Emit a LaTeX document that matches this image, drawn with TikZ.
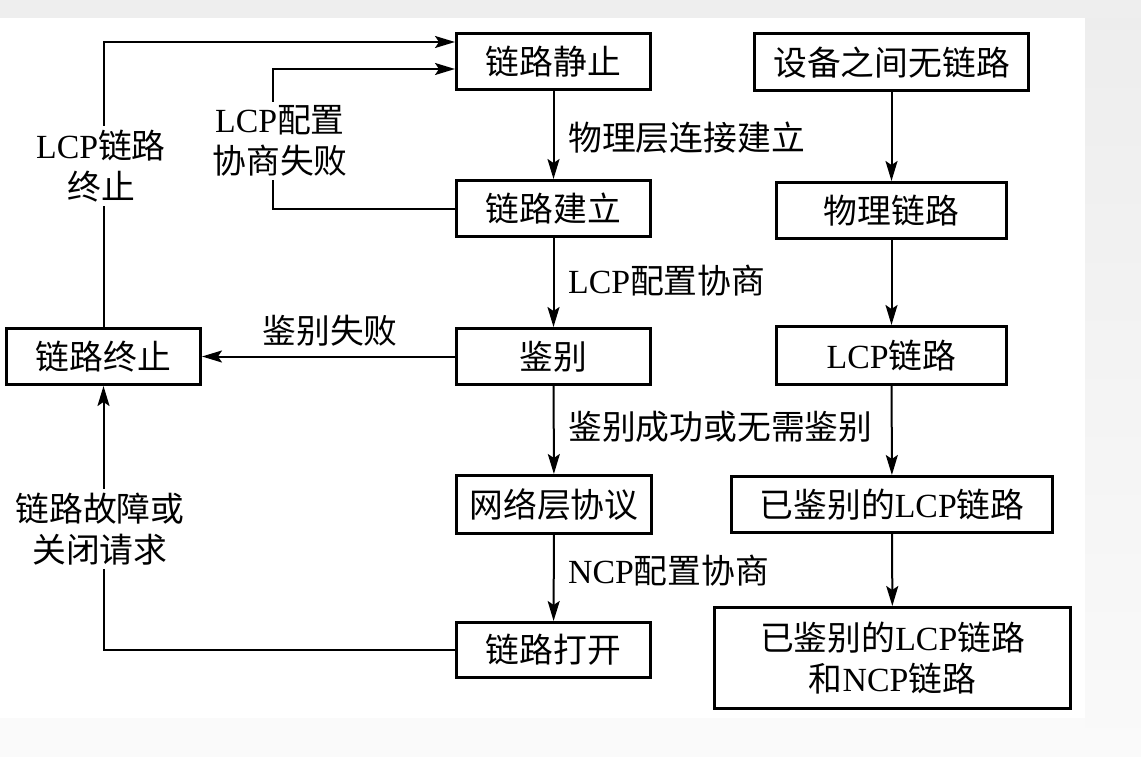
\documentclass[tikz,border=0pt]{standalone}
\usepackage{fontspec}
\setmainfont{Liberation Serif}
\newfontfamily\cjkfont{Noto Sans CJK SC}
\newcommand\zh[1]{{\cjkfont #1}}
\usetikzlibrary{arrows.meta}
\definecolor{bgtop}{HTML}{EEEEEE}
\definecolor{bgright}{HTML}{EDEDED}
\definecolor{bgbot}{HTML}{FAFAFA}
\begin{document}
\begin{tikzpicture}[x=1pt,y=-1pt,
  txt/.style={font=\fontsize{33.8}{41}\selectfont},
  box/.style={txt,draw=black,line width=3pt,minimum height=56pt,inner sep=0pt,align=center},
  conn/.style={line width=2pt},
  arr/.style={conn,-{Stealth[length=20pt,width=12pt,inset=4pt]}},
  lbl/.style={txt,inner sep=0pt,align=center},
  cut/.style={lbl,fill=white,inner ysep=4pt,inner xsep=2pt},
]
\useasboundingbox (0,0) rectangle (1141,757);
\fill[bgbot] (0,0) rectangle (1141,757);
\shade[top color=bgright,bottom color=bgbot] (1085,0) rectangle (1141,757);
\fill[bgtop] (0,0) rectangle (1141,18);
\fill[white] (0,18) rectangle (1085,718);

% middle column
\node[box,minimum width=194pt] (q) at (553.5,61.5) {\zh{链路静止}};
\node[box,minimum width=194pt] (e) at (553.5,208.5) {\zh{链路建立}};
\node[box,minimum width=194pt] (a) at (553.5,356.5) {\zh{鉴别}};
\node[box,minimum width=195pt,minimum height=58pt] (n) at (554,504.5) {\zh{网络层协议}};
\node[box,minimum width=194pt,minimum height=55pt] (o) at (553.5,650) {\zh{链路打开}};
% left
\node[box,minimum width=194pt] (t) at (103.5,356.5) {\zh{链路终止}};
% right column
\node[box,minimum width=274pt,minimum height=57pt] (r1) at (891.5,62.5) {\zh{设备之间无链路}};
\node[box,minimum width=230pt] (r2) at (891.5,210.5) {\zh{物理链路}};
\node[box,minimum width=230pt,minimum height=58pt] (r3) at (891.5,355.5) {LCP\zh{链路}};
\node[box,minimum width=321pt] (r4) at (892,504.5) {\zh{已鉴别的}LCP\zh{链路}};
\node[box,minimum width=356pt,minimum height=101pt] (r5) at (892.5,658) {\zh{已鉴别的}LCP\zh{链路}\\\zh{和}NCP\zh{链路}};

% middle connectors
\draw[arr] (q) -- (e);
\draw[arr] (e) -- (a);
\draw[arr] (a) -- (n);
\draw[arr] (n) -- (o);
% right connectors
\draw[arr] (r1) -- (r2);
\draw[arr] (r2) -- (r3);
\draw[arr] (r3) -- (r4);
\draw[arr] (r4) -- (r5);
% feedback connectors
\draw[arr] (a.west) -- (t.east);
\draw[arr] (o.west) -| (t.south);
\draw[arr] (t.north) |- ([yshift=19.5pt]q.west);
\draw[arr] (e.west) -- ++(-182,0) |- ([yshift=-7.5pt]q.west);

% labels beside arrows
\node[lbl,anchor=west] (l1) at (568,138) {\zh{物理层连接建立}};
\node[lbl,anchor=west] (l2) at (568,281) {LCP\zh{配置协商}};
\node[lbl,anchor=west] (l3) at (568,427) {\zh{鉴别成功或无需鉴别}};
\node[lbl,anchor=west] (l4) at (568,571) {NCP\zh{配置协商}};
\node[lbl] (l5) at (330,331) {\zh{鉴别失败}};
% labels cutting lines
\node[cut] (l6) at (101,166) {LCP\zh{链路}\\\zh{终止}};
\node[cut] (l7) at (280,141) {LCP\zh{配置}\\\zh{协商失败}};
\node[cut] (l8) at (100,529) {\zh{链路故障或}\\\zh{关闭请求}};
\end{tikzpicture}
\end{document}
